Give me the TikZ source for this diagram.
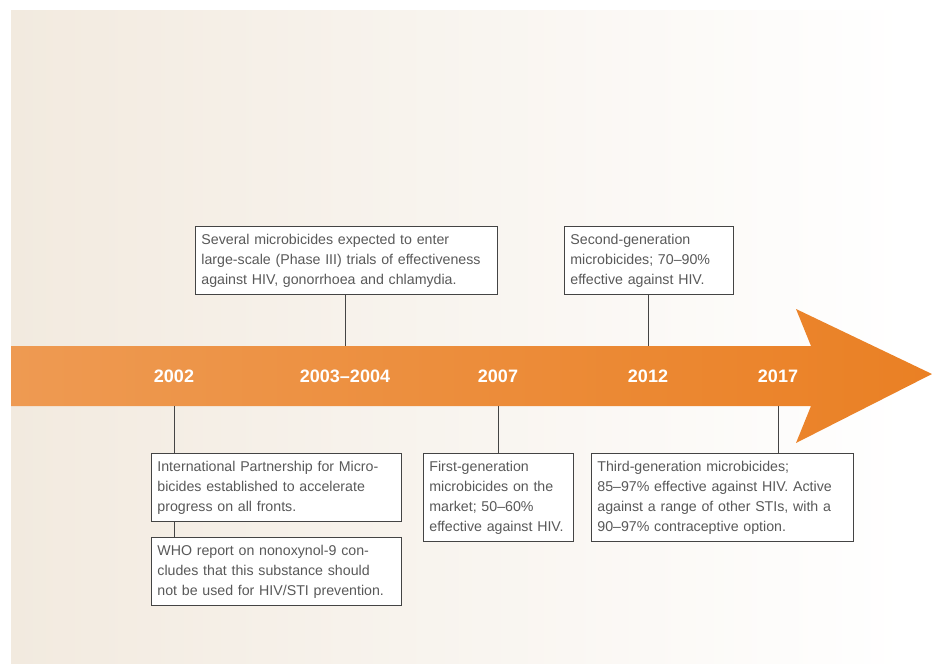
\documentclass[tikz,border=0pt]{standalone}
\usepackage{fontspec}
\setmainfont{Liberation Sans}
\usetikzlibrary{positioning}

\definecolor{bgcream}{HTML}{F2EADF}
\definecolor{arrowlight}{HTML}{EE9A52}
\definecolor{arrowdark}{HTML}{EA8024}
\definecolor{boxtext}{HTML}{595959}
\definecolor{boxline}{HTML}{444444}

\tikzset{
    event/.style={draw=boxline, line width=0.8pt, fill=white, anchor=north west,
        align=left, inner xsep=6pt, inner ysep=4pt, text=boxtext,
        font=\fontsize{14.2}{20}\selectfont,
        execute at begin node=\strut, execute at end node=\strut},
    year/.style={text=white, font=\bfseries\fontsize{18}{18}\selectfont},
    stem/.style={draw=boxline, line width=0.8pt}
}

\begin{document}
\begin{tikzpicture}[x=1pt, y=-1pt]
        \useasboundingbox (0,0) rectangle (932,664);

        % -- Fond degrade --
        \shade[left color=bgcream, right color=white] (11,10) rectangle (905,664);

        % -- Fleche du temps --
        \coordinate (bodytop) at (11,346);
        \coordinate (bodybot) at (11,406);
        \shade[left color=arrowlight, right color=arrowdark]
            (11,346) -- (811,346) -- (796,309) -- (932,374) -- (796,443) -- (811,406) -- (11,406) -- cycle;

        % Annees
        \node[year] (y02) at (174,376) {2002};
        \node[year] (y03) at (345,376) {2003--2004};
        \node[year] (y07) at (498,376) {2007};
        \node[year] (y12) at (648,376) {2012};
        \node[year] (y17) at (778,376) {2017};

        % -- Evenements au-dessus --
        \node[event, text width=290pt] (phase) at (195,226)
            {Several microbicides expected to enter\\large-scale (Phase III) trials of effectiveness\\against HIV, gonorrhoea and chlamydia.};
        \node[event, text width=157pt] (second) at (564,226)
            {Second-generation\\microbicides; 70--90\%\\effective against HIV.};

        % -- Evenements en dessous --
        \node[event, text width=238pt] (ipm) at (151,453)
            {International Partnership for Micro-\\bicides established to accelerate\\progress on all fronts.};
        \node[event, text width=238pt, below=15pt of ipm.south west, anchor=north west] (who)
            {WHO report on nonoxynol-9 con-\\cludes that this substance should\\not be used for HIV/STI prevention.};
        \node[event, text width=138pt] (first) at (423,453)
            {First-generation\\microbicides on the\\market; 50--60\%\\effective against HIV.};
        \node[event, text width=250pt] (third) at (591,453)
            {Third-generation microbicides;\\85--97\% effective against HIV. Active\\against a range of other STIs, with a\\90--97\% contraceptive option.};

        % -- Liens --
        \draw[stem] (phase.south -| y03) -- (y03 |- bodytop);
        \draw[stem] (second.south -| y12) -- (y12 |- bodytop);
        \draw[stem] (y02 |- bodybot) -- (ipm.north -| y02);
        \draw[stem] (ipm.south -| y02) -- (who.north -| y02);
        \draw[stem] (y07 |- bodybot) -- (first.north -| y07);
        \draw[stem] (y17 |- bodybot) -- (third.north -| y17);
    \end{tikzpicture}
\end{document}
